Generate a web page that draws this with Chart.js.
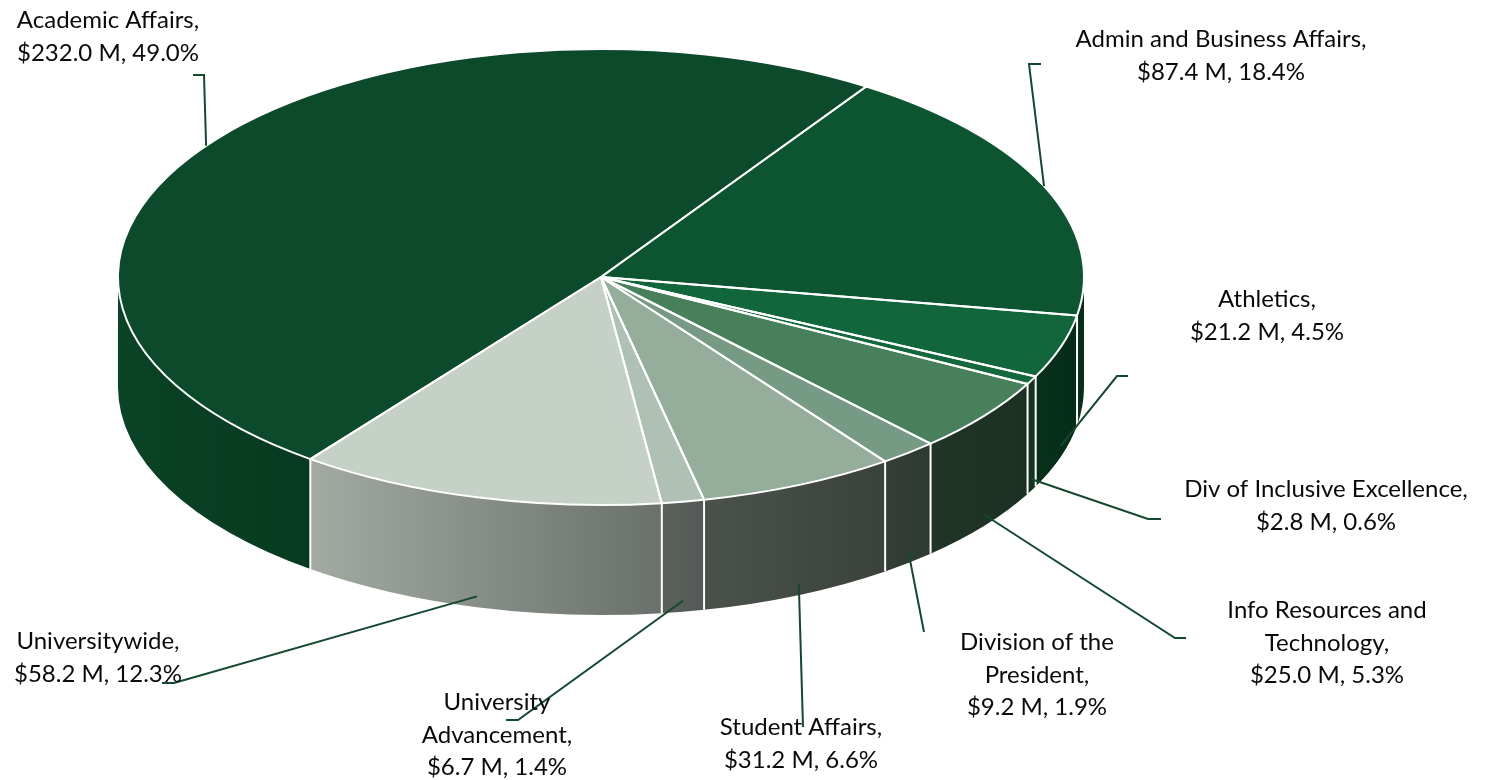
<!DOCTYPE html>
<html lang="en">
<head>
  <meta charset="UTF-8" />
  <title>Budget by Division</title>
  <script src="https://cdn.jsdelivr.net/npm/chart.js"></script>
  <style>
    body { margin: 0; background: #fff; }
    .wrap { width: 1485px; height: 780px; position: relative; }
  </style>
</head>
<body>
  <div class="wrap"><canvas id="budgetPie"></canvas></div>
  <script>
    // divisions, in drawing order (clockwise)
    const divisions = ['Academic Affairs', 'Admin and Business Affairs', 'Athletics', 'Div of Inclusive Excellence',
      'Info Resources and Technology', 'Division of the President', 'Student Affairs', 'University Advancement', 'Universitywide'];
    const amounts = [232.0, 87.4, 21.2, 2.8, 25.0, 9.2, 31.2, 6.7, 58.2];   // $ M
    const shares = [49.0, 18.4, 4.5, 0.6, 5.3, 1.9, 6.6, 1.4, 12.3];        // %
    const nameLines = [['Academic Affairs'], ['Admin and Business Affairs'], ['Athletics'], ['Div of Inclusive Excellence'],
      ['Info Resources and', 'Technology'], ['Division of the', 'President'], ['Student Affairs'], ['University', 'Advancement'], ['Universitywide']];

    const topColors = ['#0b4a2a', '#0d5530', '#11663b', '#14683d', '#47805b', '#769a83', '#94ae9b', '#afc1b4', '#c5d0c7'];
    const sideColors = [
      ['#0a4326', '#073a20'], ['#062d19', '#06301a'], ['#07301b', '#062c18'], ['#15331f', '#15331f'],
      ['#1f3526', '#1c3123'], ['#343e36', '#2f3a31'], ['#4a524b', '#3a423b'], ['#5b625c', '#535955'], ['#a2aaa2', '#6a706b']
    ];

    // pie geometry on screen
    const CX = 601, CY = 277, RX = 483, RY = 228, DEPTH = 110;
    const LEADER = '#12492f';

    // label block: centre x, first baseline y
    const labelPos = [[108, 28], [1221, 47], [1267, 307], [1326, 497], [1327, 618], [1037, 650], [801, 735], [497, 710], [98, 649]];
    // label end of each leader line
    const leaderEnds = [
      [[193, 75], [204, 75]], [[1041, 64], [1029, 64]], [[1128, 376], [1117, 376]], [[1161, 519], [1148, 519]],
      [[1186, 638], [1175, 638]], [[924, 632]], [[803, 727]], [[506, 720], [518, 720]], [[162, 683], [174, 683]]
    ];

    const ell = (a, dy = 0) => [CX + RX * Math.cos(a), CY + dy + RY * Math.sin(a)];

    // parts of [s, e] that face the viewer (lower half of the ellipse)
    function frontParts(s, e) {
      const parts = [];
      for (let k = -1; k <= 3; k++) {
        const a = Math.max(s, 2 * Math.PI * k), b = Math.min(e, 2 * Math.PI * k + Math.PI);
        if (b > a) parts.push([a, b]);
      }
      return parts;
    }

    const pie3d = {
      id: 'pie3d',
      beforeDatasetsDraw(chart) {
        const ctx = chart.ctx;
        const arcs = chart.getDatasetMeta(0).data;

        // side walls
        arcs.forEach((arc, i) => {
          frontParts(arc.startAngle, arc.endAngle).forEach(([a, b]) => {
            const xl = ell(b)[0], xr = ell(a)[0];
            const g = ctx.createLinearGradient(xl, 0, xr, 0);
            g.addColorStop(0, sideColors[i][0]);
            g.addColorStop(1, sideColors[i][1]);
            ctx.beginPath();
            ctx.ellipse(CX, CY, RX, RY, 0, a, b, false);
            ctx.ellipse(CX, CY + DEPTH, RX, RY, 0, b, a, true);
            ctx.closePath();
            ctx.fillStyle = g;
            ctx.fill();
          });
        });
        ctx.save();
        ctx.strokeStyle = '#fff';
        ctx.lineWidth = 2;
        arcs.forEach(arc => {
          if (Math.sin(arc.startAngle) > 0.01) {
            const [x, y] = ell(arc.startAngle);
            ctx.beginPath();
            ctx.moveTo(x, y);
            ctx.lineTo(x, y + DEPTH);
            ctx.stroke();
          }
        });
        ctx.restore();

        // flatten the pie onto the top ellipse
        const ref = arcs[0];
        ctx.save();
        ctx.translate(CX, CY);
        ctx.scale(RX / ref.outerRadius, RY / ref.outerRadius);
        ctx.translate(-ref.x, -ref.y);
      },
      afterDatasetsDraw(chart) {
        const ctx = chart.ctx;
        ctx.restore();
        const arcs = chart.getDatasetMeta(0).data;

        // white slice outlines on top face
        ctx.save();
        ctx.strokeStyle = '#fff';
        ctx.lineWidth = 2;
        ctx.lineJoin = 'round';
        arcs.forEach(arc => {
          ctx.beginPath();
          ctx.moveTo(CX, CY);
          ctx.lineTo(...ell(arc.startAngle));
          ctx.ellipse(CX, CY, RX, RY, 0, arc.startAngle, arc.endAngle, false);
          ctx.closePath();
          ctx.stroke();
        });
        ctx.restore();

        // leader lines
        ctx.save();
        ctx.strokeStyle = LEADER;
        ctx.lineWidth = 2;
        arcs.forEach((arc, i) => {
          const mid = (arc.startAngle + arc.endAngle) / 2;
          const front = Math.sin(mid) > 0;
          const anchor = ell(mid, front ? DEPTH * 0.9 : 0);
          const pts = leaderEnds[i];
          ctx.beginPath();
          ctx.moveTo(...pts[0]);
          pts.slice(1).forEach(p => ctx.lineTo(...p));
          ctx.lineTo(...anchor);
          ctx.stroke();
        });
        ctx.restore();

        // data labels
        ctx.save();
        ctx.fillStyle = '#0a0a0a';
        ctx.font = '24px Lato, "Open Sans", sans-serif';
        ctx.textAlign = 'center';
        ctx.textBaseline = 'alphabetic';
        divisions.forEach((d, i) => {
          const lines = nameLines[i].slice();
          lines[lines.length - 1] += ',';
          lines.push('$' + amounts[i].toFixed(1) + ' M, ' + shares[i].toFixed(1) + '%');
          const [x, y] = labelPos[i];
          lines.forEach((t, j) => ctx.fillText(t, x, y + j * 32.5));
        });
        ctx.restore();
      }
    };

    new Chart(document.getElementById('budgetPie'), {
      type: 'pie',
      data: {
        labels: divisions,
        datasets: [{
          data: amounts,
          backgroundColor: topColors,
          borderWidth: 0,
          clip: false
        }]
      },
      options: {
        responsive: true,
        maintainAspectRatio: false,
        animation: false,
        rotation: 217,
        layout: { padding: 0 },
        events: [],
        plugins: {
          legend: { display: false },
          tooltip: { enabled: false }
        }
      },
      plugins: [pie3d]
    });
  </script>
</body>
</html>
